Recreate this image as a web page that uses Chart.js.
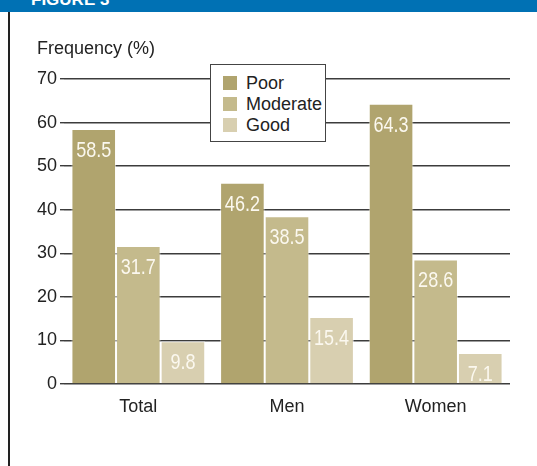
<!DOCTYPE html>
<html>
<head>
<meta charset="utf-8">
<script src="https://cdn.jsdelivr.net/npm/chart.js@4.4.1/dist/chart.umd.min.js"></script>
<style>
  html, body { margin: 0; padding: 0; background: #fff; }
  #wrap { position: relative; width: 537px; height: 466px; overflow: hidden; font-family: "Liberation Sans", Arial, sans-serif; }
  #band { position: absolute; left: 0; top: 0; width: 537px; height: 12px; background: #0071b4; overflow: hidden; }
  #band span { position: absolute; left: 31px; top: -9px; font: bold 17px/17px "Liberation Sans", Arial, sans-serif; color: #fff; }
  #frame { position: absolute; left: 8px; top: 12px; width: 1.5px; height: 454px; background: #222; }
  #ylabel { position: absolute; left: 37px; top: 38px; font-size: 18px; color: #222; }
  #legend { position: absolute; left: 210px; top: 64px; width: 114px; height: 76px; background: #fff; border: 1.5px solid #444; }
  #legend div { position: absolute; left: 12px; font-size: 18px; line-height: 21px; color: #222; white-space: nowrap; }
  #legend i { display: inline-block; width: 14px; height: 14px; margin-right: 9px; vertical-align: -1px; }
  canvas { position: absolute; left: 0; top: 0; }
</style>
</head>
<body>
<div id="wrap">
  <canvas id="chart" width="537" height="466"></canvas>
  <div id="band"><span>FIGURE 3</span></div>
  <div id="frame"></div>
  <div id="ylabel">Frequency (%)</div>
  <div id="legend"></div>
</div>
<script>
// data
const categories = ['Total', 'Men', 'Women'];
const seriesNames = ['Poor', 'Moderate', 'Good'];
const poorValues = [58.5, 46.2, 64.3];
const moderateValues = [31.7, 38.5, 28.6];
const goodValues = [9.8, 15.4, 7.1];
const yMin = 0, yMax = 70, yStep = 10;

const colors = ['#b0a46e', '#c4ba8c', '#d8cfb0'];
const allValues = [poorValues, moderateValues, goodValues];

// legend box
const legend = document.getElementById('legend');
seriesNames.forEach((name, i) => {
    const row = document.createElement('div');
    row.style.top = (8 + i * 21) + 'px';
    row.innerHTML = '<i style="background:' + colors[i] + '"></i>' + name;
    legend.appendChild(row);
});

// white numbers inside the top of each bar (squeezed to look condensed)
const barValues = {
    id: 'barValues',
    afterDatasetsDraw(chart) {
        const ctx = chart.ctx;
        ctx.save();
        ctx.font = '22px "Liberation Sans", Arial, sans-serif';
        ctx.fillStyle = '#fbf8ef';
        ctx.textAlign = 'center';
        ctx.textBaseline = 'alphabetic';
        chart.data.datasets.forEach((ds, i) => {
            chart.getDatasetMeta(i).data.forEach((bar, j) => {
                ctx.save();
                ctx.translate(bar.x, bar.y + 28);
                ctx.scale(0.82, 1);
                ctx.fillText(ds.data[j].toFixed(1), 0, 0);
                ctx.restore();
            });
        });
        ctx.restore();
    }
};

new Chart(document.getElementById('chart'), {
    type: 'bar',
    data: {
        labels: categories,
        datasets: seriesNames.map((name, i) => ({
            label: name,
            data: allValues[i],
            backgroundColor: colors[i],
            borderColor: 'rgba(255,255,255,0.55)',
            borderWidth: 1,
            categoryPercentage: 0.9,
            barPercentage: 1.0
        }))
    },
    options: {
        responsive: false,
        animation: false,
        layout: { padding: { top: 79, right: 27, left: 0, bottom: 0 } },
        plugins: { legend: { display: false }, tooltip: { enabled: false } },
        scales: {
            x: {
                grid: { display: false },
                border: { display: false },
                ticks: {
                    color: '#222',
                    padding: 4,
                    font: { family: '"Liberation Sans", Arial, sans-serif', size: 18 }
                },
                afterFit(scale) { scale.height = 82; }
            },
            y: {
                min: yMin,
                max: yMax,
                grid: { color: '#3c3c3c', lineWidth: 1.4, tickLength: 4, tickColor: '#3c3c3c' },
                border: { display: false },
                ticks: {
                    stepSize: yStep,
                    color: '#222',
                    padding: 3,
                    font: { family: '"Liberation Sans", Arial, sans-serif', size: 18 }
                },
                afterFit(scale) { scale.width = 64; }
            }
        }
    },
    plugins: [barValues]
});
</script>
</body>
</html>
